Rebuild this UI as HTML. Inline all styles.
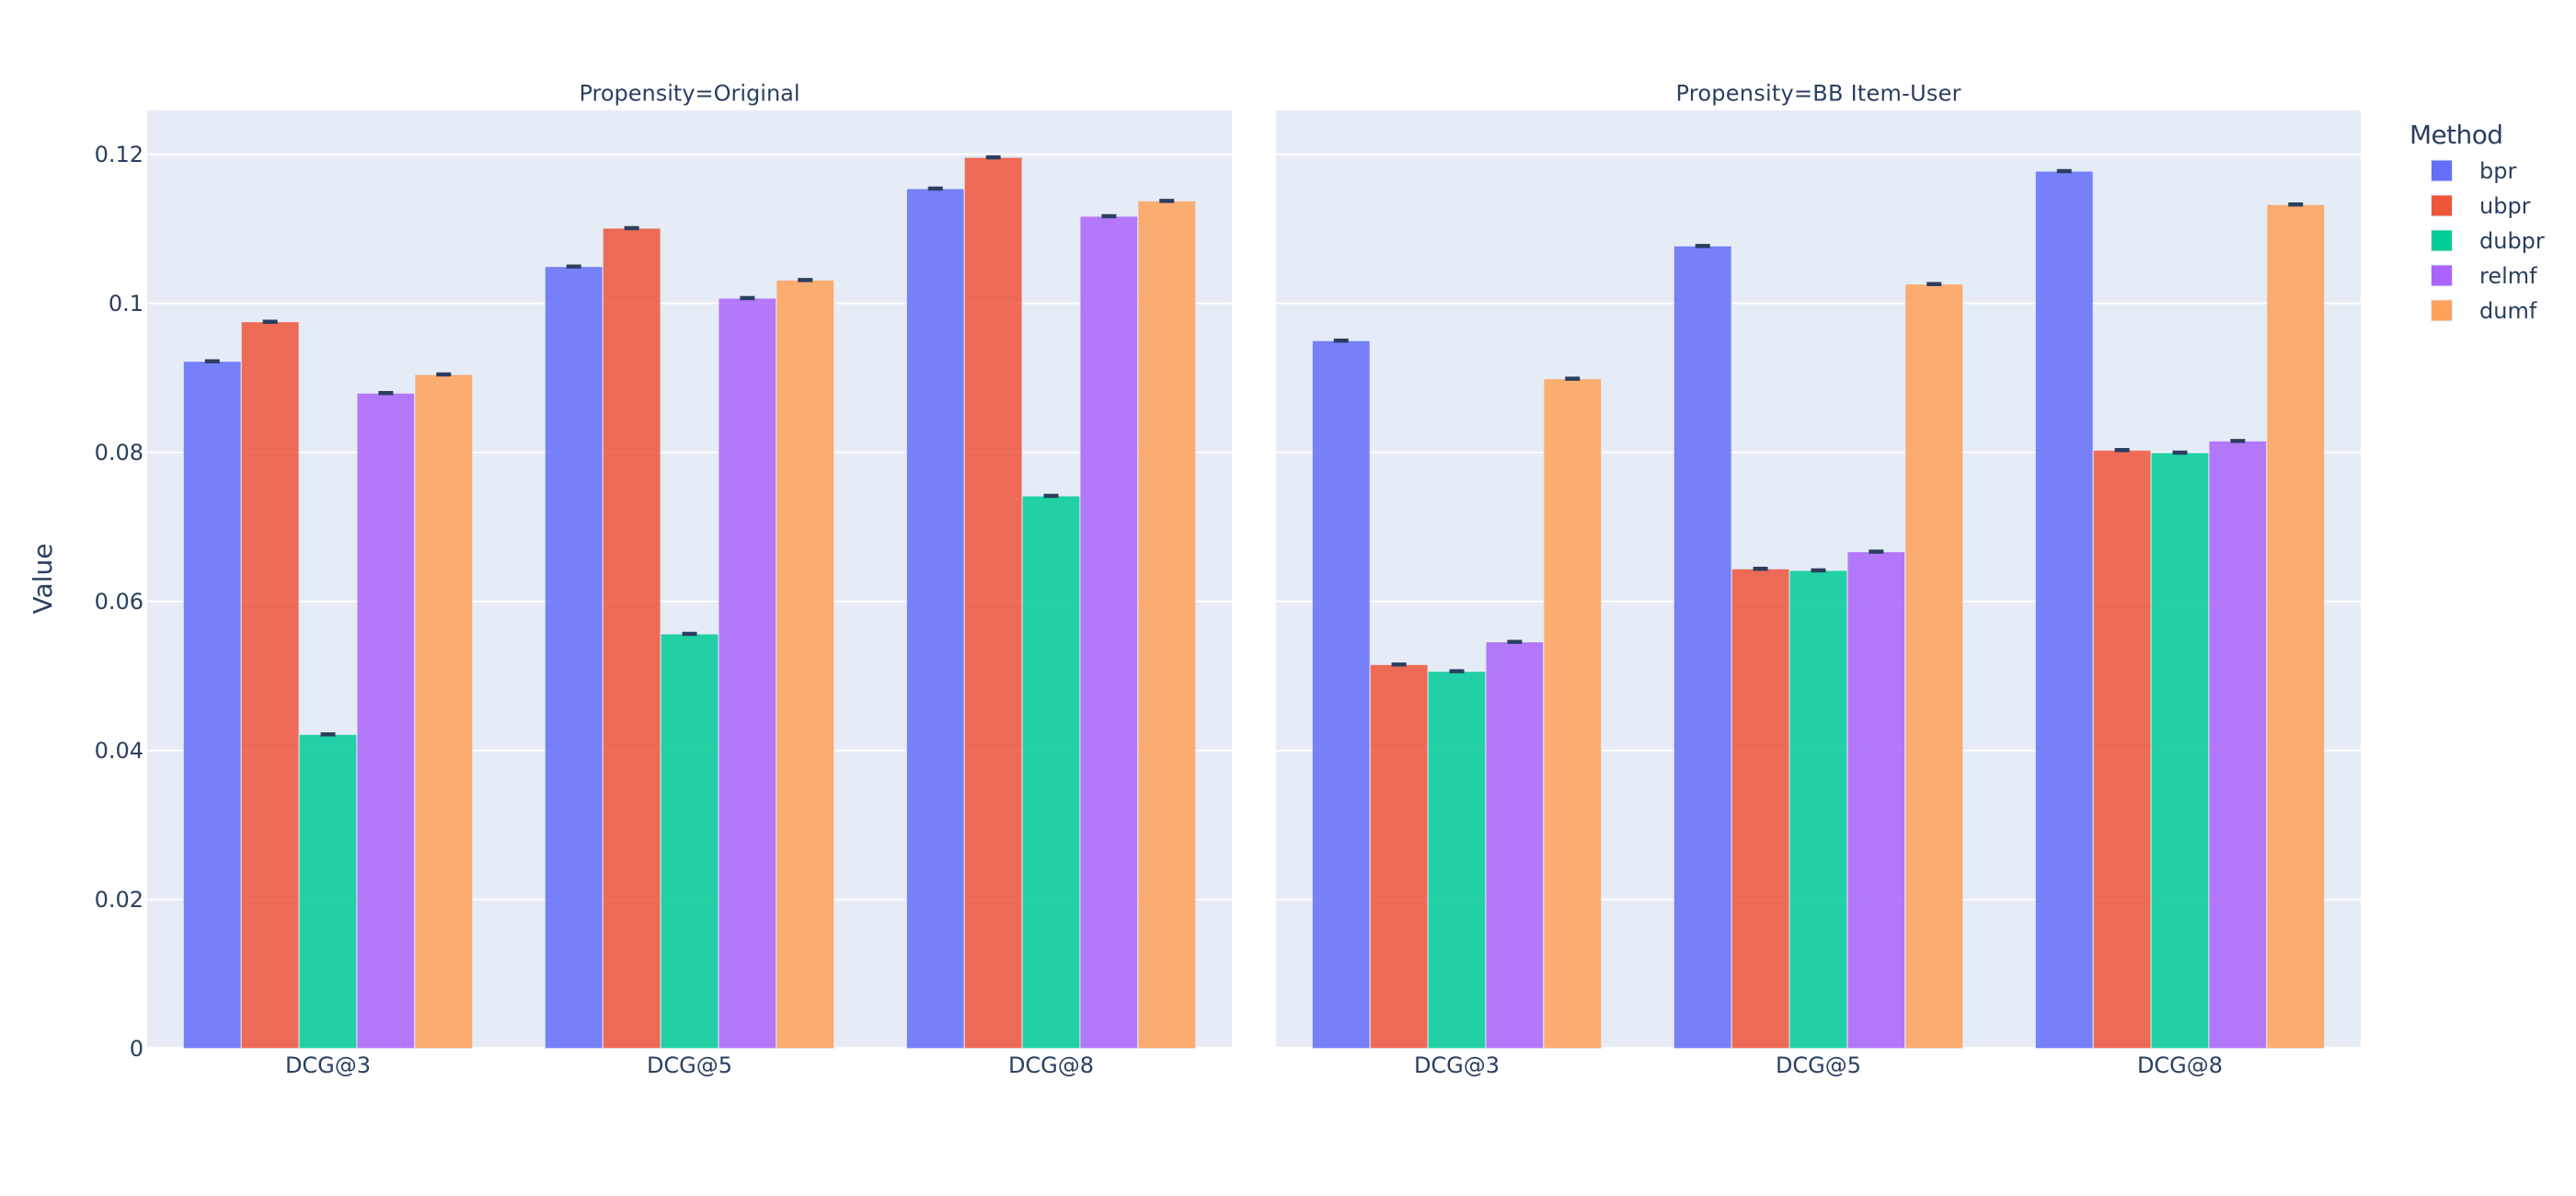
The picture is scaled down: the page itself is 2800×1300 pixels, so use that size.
<!DOCTYPE html>
<html lang="en">
<head>
<meta charset="utf-8">
<title>DCG by Method and Propensity</title>
<style>
html,body{margin:0;padding:0;background:#fff;}
svg{display:block;}
text{font-family:"DejaVu Sans","Liberation Sans",sans-serif;fill:#2a3f5f;}
</style>
</head>
<body>
<svg id="chart" xmlns="http://www.w3.org/2000/svg" width="2800" height="1300" viewBox="0 0 2800 1300">
  <rect x="0" y="0" width="2800" height="1300" fill="#ffffff"></rect>
  <text transform="translate(56,629) rotate(-90)" text-anchor="middle" font-size="28">Value</text>
  <text x="2619" y="156" font-size="28" textLength="102" lengthAdjust="spacing">Method</text>
</svg>
<script>
const categories = ['DCG@3', 'DCG@5', 'DCG@8'];
const methods = ['bpr', 'ubpr', 'dubpr', 'relmf', 'dumf'];
const panelTitles = ['Propensity=Original', 'Propensity=BB Item-User'];
const yTickValues = [0, 0.02, 0.04, 0.06, 0.08, 0.1, 0.12];
const yTickLabels = ['0', '0.02', '0.04', '0.06', '0.08', '0.1', '0.12'];

const originalBpr = [0.09222, 0.10494, 0.11539];
const originalUbpr = [0.09753, 0.11009, 0.11959];
const originalDubpr = [0.04215, 0.05564, 0.07416];
const originalRelmf = [0.08795, 0.10070, 0.11169];
const originalDumf = [0.09045, 0.10313, 0.11375];

const bbBpr = [0.09499, 0.10770, 0.11774];
const bbUbpr = [0.05153, 0.06437, 0.08030];
const bbDubpr = [0.05062, 0.06416, 0.07996];
const bbRelmf = [0.05457, 0.06667, 0.08153];
const bbDumf = [0.08988, 0.10259, 0.11326];

const originalError = [0.00003, 0.00003, 0.00003];
const bbError = [0.00003, 0.00003, 0.00003];

const originalSeries = [originalBpr, originalUbpr, originalDubpr, originalRelmf, originalDumf];
const bbSeries = [bbBpr, bbUbpr, bbDubpr, bbRelmf, bbDumf];
const panelSeries = [originalSeries, bbSeries];
const panelErrors = [originalError, bbError];

const methodColors = ['#636efa', '#ef553b', '#00cc96', '#ab63fa', '#ffa15a'];

const SVG_NS = 'http://www.w3.org/2000/svg';
const svg = document.getElementById('chart');
const PANEL_WIDTH = 1179;
const PANEL_TOP = 120;
const ZERO_Y = 1139.7;
const PX_PER_UNIT = 8100;
const BAND_FILL = 0.8;

function panelLeft(p) { return p === 0 ? 160 : 1387; }
function yScale(v) { return ZERO_Y - v * PX_PER_UNIT; }
function bandWidth() { return PANEL_WIDTH / categories.length; }
function categoryCenter(p, c) { return panelLeft(p) + bandWidth() * (c + 0.5); }
function barWidth() { return bandWidth() * BAND_FILL / methods.length; }
function barLeft(p, c, s) { return categoryCenter(p, c) - bandWidth() * BAND_FILL / 2 + s * barWidth(); }

function make(tag, attrs, text) {
  const el = document.createElementNS(SVG_NS, tag);
  for (const k in attrs) el.setAttribute(k, attrs[k]);
  if (text !== undefined) el.textContent = text;
  svg.appendChild(el);
  return el;
}

panelTitles.forEach(function (title, p) {
  const bg = make('rect', { x: panelLeft(p), y: PANEL_TOP, width: PANEL_WIDTH, height: ZERO_Y - PANEL_TOP, fill: '#e5ecf6' });
  
  

  const titleEl = make('text', { x: panelLeft(p) + PANEL_WIDTH / 2, y: 109.5, 'text-anchor': 'middle', 'font-size': 24 }, title);
  
  
  if (p === 1) {
    titleEl.setAttribute('textLength', '310');
    titleEl.setAttribute('lengthAdjust', 'spacing');
  }

  yTickValues.forEach(function (v, i) {
    const line = make('line', {
      x1: panelLeft(p), x2: panelLeft(p) + PANEL_WIDTH, y1: yScale(v), y2: yScale(v),
      stroke: '#ffffff', 'stroke-width': v === 0 ? 4 : 2
    });
    
    

    if (p === 0) {
      const label = make('text', { x: 156, y: yScale(v) + 8.5, 'text-anchor': 'end', 'font-size': 24 }, yTickLabels[i]);
      
      
    }
  });

  categories.forEach(function (cat, c) {
    const label = make('text', { x: categoryCenter(p, c), y: 1166, 'text-anchor': 'middle', 'font-size': 24 }, cat);
    
    
  });

  panelSeries[p].forEach(function (values, s) {
    values.forEach(function (value, c) {
      const top = yScale(value);
      const bar = make('rect', {
        x: barLeft(p, c, s), y: top, width: barWidth(), height: ZERO_Y - top,
        fill: methodColors[s], stroke: '#e5ecf6', 'stroke-width': 1, opacity: 0.85
      });
      
      
    });
  });

  panelSeries[p].forEach(function (values, s) {
    values.forEach(function (value, c) {
      const cx = barLeft(p, c, s) + barWidth() / 2;
      const e = panelErrors[p][c];
      const hi = yScale(value + e);
      const lo = yScale(value - e);
      const cap = make('path', {
        d: 'M' + (cx - 8) + ',' + hi + 'H' + (cx + 8) + 'M' + cx + ',' + hi + 'V' + lo + 'M' + (cx - 8) + ',' + lo + 'H' + (cx + 8),
        fill: 'none', stroke: '#2a3f5f', 'stroke-width': 4
      });
      
      
    });
  });
});

methods.forEach(function (name, s) {
  const rowY = 185.5 + s * 38;
  const swatch = make('rect', { x: 2642.5, y: rowY - 11.5, width: 23, height: 23, fill: methodColors[s], stroke: '#e5ecf6', 'stroke-width': 1 });
  
  

  const label = make('text', { x: 2695, y: rowY + 8.5, 'font-size': 24 }, name);
  
  
});
</script>
</body>
</html>
